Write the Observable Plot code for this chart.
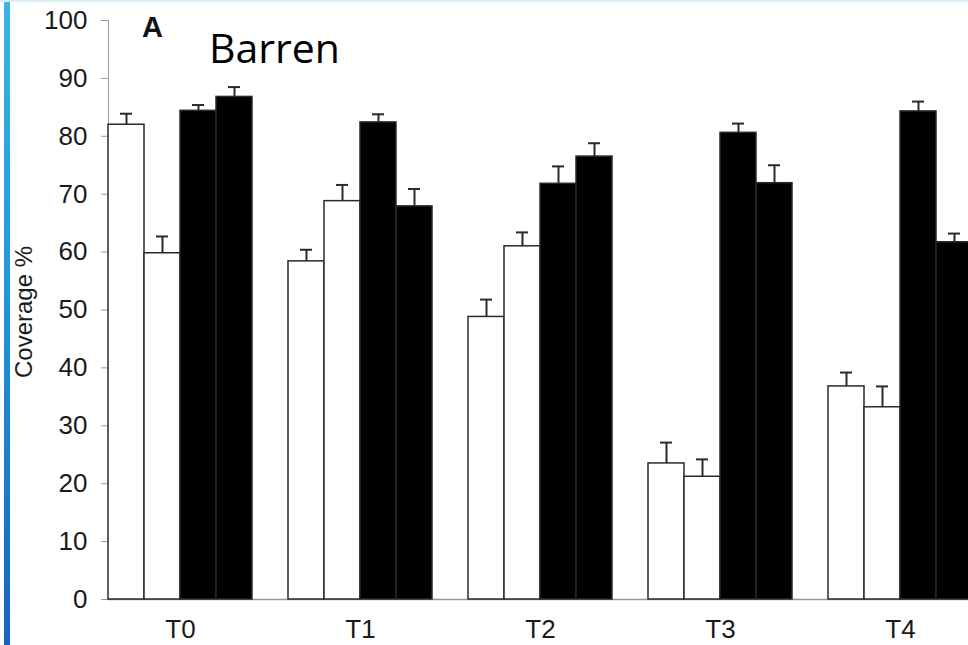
<!DOCTYPE html>
<html>
<head>
<meta charset="utf-8">
<script src="https://cdn.jsdelivr.net/npm/d3@7"></script>
<script src="https://cdn.jsdelivr.net/npm/@observablehq/plot@0.6"></script>
<style>
  body { margin: 0; background: #fff; }
  #wrap { position: relative; width: 968px; height: 645px; overflow: hidden; background: #fff; }
  #chart { position: absolute; left: 0; top: 0; }
  #chart svg text { fill: #1a1a1a; }
  #edge { position: absolute; left: 4px; top: 0; width: 6px; height: 645px;
          background: linear-gradient(#3ab4e8, #2196da 45%, #1565c0); }
  #topline { position: absolute; left: 0; top: 0; width: 968px; height: 2px; background: #dceff9; }
  #panel { position: absolute; left: 142px; top: 11px; font: bold 29px "Liberation Sans", Arial, sans-serif;
           line-height: normal; color: #111; }
  #title { position: absolute; left: 209px; top: 19px; font: 41px "Open Sans", sans-serif; line-height: normal; color: #000; }
  #ylabel { position: absolute; left: 24px; top: 312px; transform: translate(-50%, -50%) rotate(-90deg);
            font: 24px "Liberation Sans", Arial, sans-serif; color: #1a1a1a; white-space: nowrap; }
</style>
</head>
<body>
<div id="wrap">
  <div id="chart"></div>
  <div id="edge"></div>
  <div id="topline"></div>
  <div id="panel">A</div>
  <div id="title">Barren</div>
  <div id="ylabel">Coverage %</div>
</div>
<script>
// Time points (groups)
const groups = ["T0", "T1", "T2", "T3", "T4"];
// Four treatments per time point: two open (white) bars, two filled (black) bars
const series = ["S1", "S2", "S3", "S4"];
const seriesFill = ["white", "white", "black", "black"];
// Mean coverage % per series (one value per time point)
const meanS1 = [82.0, 58.4, 48.8, 23.5, 36.8];
const meanS2 = [59.8, 68.8, 61.0, 21.2, 33.2];
const meanS3 = [84.4, 82.4, 71.8, 80.6, 84.3];
const meanS4 = [86.8, 67.9, 76.5, 71.9, 61.7];
// Upper error (standard error) per series
const errS1 = [1.9, 2.0, 3.0, 3.6, 2.4];
const errS2 = [2.9, 2.8, 2.4, 3.0, 3.6];
const errS3 = [1.0, 1.4, 3.0, 1.6, 1.7];
const errS4 = [1.7, 3.0, 2.3, 3.1, 1.5];
// Y-axis ticks
const yTicks = [0, 10, 20, 30, 40, 50, 60, 70, 80, 90, 100];

const means = [meanS1, meanS2, meanS3, meanS4];
const errs = [errS1, errS2, errS3, errS4];
const rows = [];
groups.forEach((g, i) => {
  series.forEach((s, j) => {
    rows.push({group: g, series: s, value: means[j][i], err: errs[j][i]});
  });
});

const chart = Plot.plot({
  width: 968,
  height: 645,
  marginLeft: 107,
  marginRight: 0,
  marginTop: 20,
  marginBottom: 46,
  style: {fontFamily: "'Liberation Sans', Arial, sans-serif", fontSize: "26px", color: "#9a9a9a", background: "transparent"},
  fx: {domain: groups, range: [107.5, 971.5], paddingInner: 0.2, paddingOuter: 0, label: null, tickSize: 0, tickPadding: 20},
  x: {domain: series, padding: 0, axis: null},
  y: {domain: [0, 100], ticks: yTicks, tickSize: 7, tickPadding: 14, label: null, line: true},
  color: {domain: series, range: seriesFill},
  marks: [
    Plot.frame({anchor: "bottom", facet: "super", stroke: "#9a9a9a", strokeWidth: 1.5}),
    Plot.barY(rows, {fx: "group", x: "series", y: "value", fill: "series", stroke: "#2a2a2a", strokeWidth: 1.5}),
    Plot.ruleX(rows, {fx: "group", x: "series", y1: "value", y2: d => d.value + d.err, stroke: "#2a2a2a", strokeWidth: 2}),
    Plot.tickY(rows, {fx: "group", x: "series", y: d => d.value + d.err, stroke: "#2a2a2a", strokeWidth: 2, inset: 12})
  ]
});
document.getElementById("chart").appendChild(chart);
</script>
</body>
</html>
